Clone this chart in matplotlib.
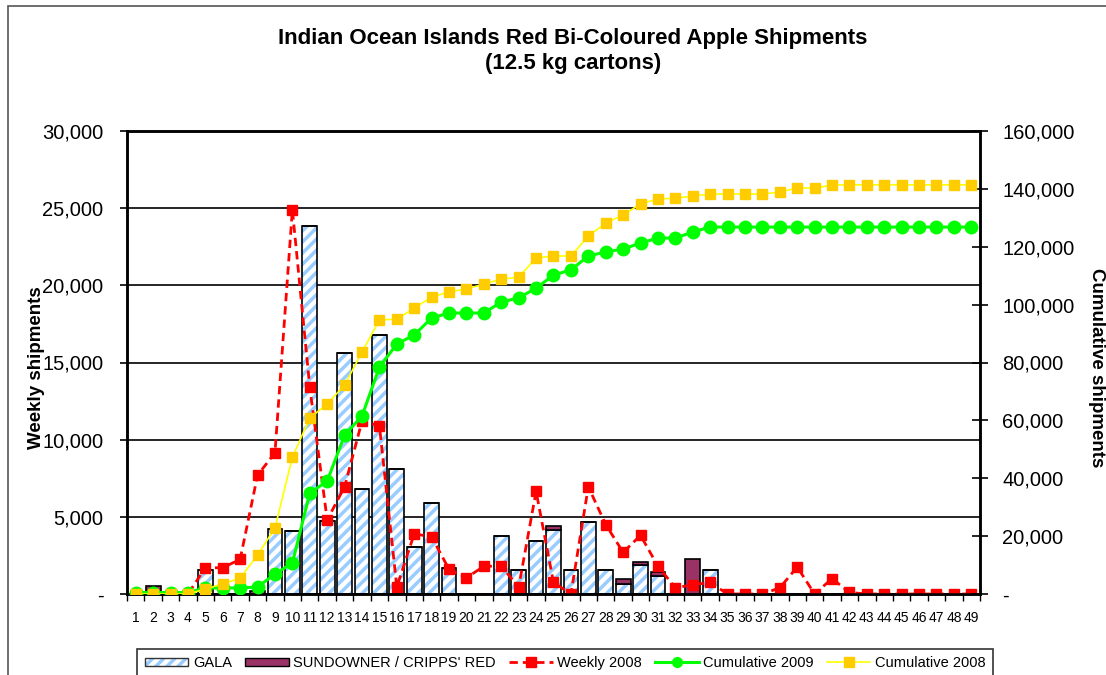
import matplotlib
matplotlib.use("Agg")
import matplotlib.pyplot as plt
import matplotlib.ticker as mticker
from matplotlib.patches import Rectangle, Patch
from matplotlib.lines import Line2D
from matplotlib.legend_handler import HandlerTuple
import numpy as np

plt.rcParams['font.family'] = ['Liberation Sans', 'DejaVu Sans']
plt.rcParams['hatch.linewidth'] = 2.5

# weeks 1..49
weeks = list(range(1, 50))

gala = [0, 0, 0, 0, 1550, 0, 0, 0, 4200, 4100,
        23850, 4700, 15600, 6800, 16800, 8100, 3050, 5900, 1700, 0,
        0, 3750, 1550, 3450, 4150, 1550, 4650, 1550, 650, 1850,
        1150, 0, 0, 1550, 0, 0, 0, 0, 0, 0,
        0, 0, 0, 0, 0, 0, 0, 0, 0]

sundowner = [0, 550, 0, 0, 0, 0, 0, 200, 0, 0,
             0, 0, 0, 0, 0, 0, 0, 0, 0, 0,
             0, 0, 0, 0, 250, 0, 0, 0, 350, 200,
             300, 0, 2300, 0, 0, 0, 0, 0, 0, 0,
             0, 0, 0, 0, 0, 0, 0, 0, 0]

weekly_2008 = [0, 0, 0, 0, 1700, 1700, 2250, 7700, 9150, 24900,
               13400, 4800, 6950, 11200, 10900, 450, 3900, 3700, 1600, 1050,
               1800, 1800, 450, 6650, 750, 0, 6950, 4500, 2700, 3800,
               1800, 400, 600, 750, 0, 0, 0, 400, 1750, 0,
               1000, 100, 0, 0, 0, 0, 0, 0, 0]

cum_2009 = [500, 500, 500, 500, 2100, 2100, 2100, 2400, 6900, 10700,
            34900, 39000, 54900, 61500, 78400, 86400, 89500, 95400, 97100, 97100,
            97100, 100900, 102300, 105700, 110200, 112000, 116800, 118200, 119200, 121300,
            123000, 123000, 125100, 126800, 126800, 126800, 126800, 126800, 126800, 126800,
            126800, 126800, 126800, 126800, 126800, 126800, 126800, 126800, 126800]

cum_2008 = [0, 0, 0, 0, 1700, 3500, 5500, 13500, 22800, 47300,
            60800, 65700, 72200, 83600, 94700, 95000, 98800, 102600, 104400, 105400,
            107100, 108800, 109500, 116100, 116800, 116800, 123700, 128200, 131000, 134800,
            136500, 136800, 137500, 138200, 138200, 138200, 138200, 138900, 140300, 140300,
            141300, 141400, 141400, 141400, 141400, 141400, 141400, 141400, 141400]

fig = plt.figure(figsize=(11.06, 6.75), dpi=100)
ax = fig.add_axes([127/1106, 1 - 594/675, (980-127)/1106, (594-131)/675])

x = np.array(weeks)
w = 0.85
# GALA: light blue stripes, then black outline
ax.bar(x, gala, w, color='white', edgecolor='#99CCFF', hatch='///', linewidth=0, zorder=2)
ax.bar(x, gala, w, fill=False, edgecolor='black', linewidth=1.2, zorder=3)
ax.bar(x, sundowner, w, bottom=gala, color='#993366', edgecolor='black', linewidth=1.2, zorder=3)

ax.plot(x, weekly_2008, color='#FF0000', ls=(0, (3, 1.8)), lw=2, marker='s',
        ms=7, mec='#FF0000', mfc='#FF0000', zorder=4)

fmt = mticker.FuncFormatter(lambda v, p: '-' if v == 0 else f'{v:,.0f}')

ax.set_xlim(0.5, 49.5)
ax.set_ylim(0, 30000)
ax.set_yticks(range(0, 30001, 5000))
ax.yaxis.grid(True, color='black', lw=1.2)
ax.set_axisbelow(True)
ax.yaxis.set_major_formatter(fmt)
ax.set_xticks(weeks)
ax.set_xticks(np.arange(0.5, 50, 1), minor=True)
ax.tick_params(axis='x', which='major', length=0, labelsize=10, pad=12)
ax.tick_params(axis='x', which='minor', length=5, width=1)
ax.tick_params(axis='y', labelsize=14.5, length=5, width=1.2, pad=12)
for s in ax.spines.values():
    s.set_linewidth(1.8)
ax.set_ylabel('Weekly shipments', fontsize=13.5, fontweight='bold', va='center')
ax.yaxis.set_label_coords((36 - 127) / 853, 0.488)

ax2 = ax.twinx()
ax2.plot(x, cum_2009, color='#00FF00', lw=2.2, marker='o', ms=9, mec='#00FF00',
         mfc='#00FF00', zorder=5)
ax2.plot(x, cum_2008, color='#FFFF00', lw=1.2, marker='s', ms=7, mec='#FFCC00',
         mfc='#FFCC00', zorder=6)
ax2.set_ylim(0, 160000)
ax2.set_yticks(range(0, 160001, 20000))
ax2.yaxis.set_major_formatter(fmt)
ax2.tick_params(axis='y', labelsize=14.5, length=12, width=1.2, direction='inout', pad=10)
for s in ax2.spines.values():
    s.set_linewidth(1.8)
ax2.set_ylabel('Cumulative shipments', fontsize=13.5, fontweight='bold', rotation=270, va='center')
ax2.yaxis.set_label_coords((1097 - 127) / 853, 0.488)

fig.text(573/1106, 1 - 51/675, 'Indian Ocean Islands Red Bi-Coloured Apple Shipments\n(12.5 kg cartons)',
         ha='center', va='center', fontsize=16, fontweight='bold', linespacing=1.25)

# legend
gala_h = (Patch(facecolor='white', edgecolor='#99CCFF', hatch='///', lw=0),
          Patch(fill=False, edgecolor='#333333', lw=1))
handles = [
    gala_h,
    Patch(facecolor='#993366', edgecolor='black'),
    Line2D([], [], color='#FF0000', ls=(0, (3, 1.8)), lw=2, marker='s', ms=7),
    Line2D([], [], color='#00FF00', lw=2.2, marker='o', ms=7),
    Line2D([], [], color='#FFFF00', lw=1.2, marker='s', ms=7, mec='#FFCC00', mfc='#FFCC00'),
]
labels = ['GALA', "SUNDOWNER / CRIPPS' RED", 'Weekly 2008', 'Cumulative 2009', 'Cumulative 2008']
leg = fig.legend(handles, labels, ncol=5, loc='center', bbox_to_anchor=(565/1106, 1 - 663/675),
                 fontsize=10.5, frameon=True, fancybox=False, edgecolor='black',
                 handlelength=3.0, handleheight=0.5, handletextpad=0.3, columnspacing=0.9,
                 borderpad=0.5, handler_map={tuple: HandlerTuple(ndivide=1, pad=0)})
leg.get_frame().set_linewidth(1.2)

# outer chart frame
fig.patches.append(Rectangle((8/1106, -0.05), 1.2, 1 - 6/675 + 0.05, transform=fig.transFigure,
                             fill=False, edgecolor='#555555', lw=1.2))

fig.savefig('out.png', dpi=100)
